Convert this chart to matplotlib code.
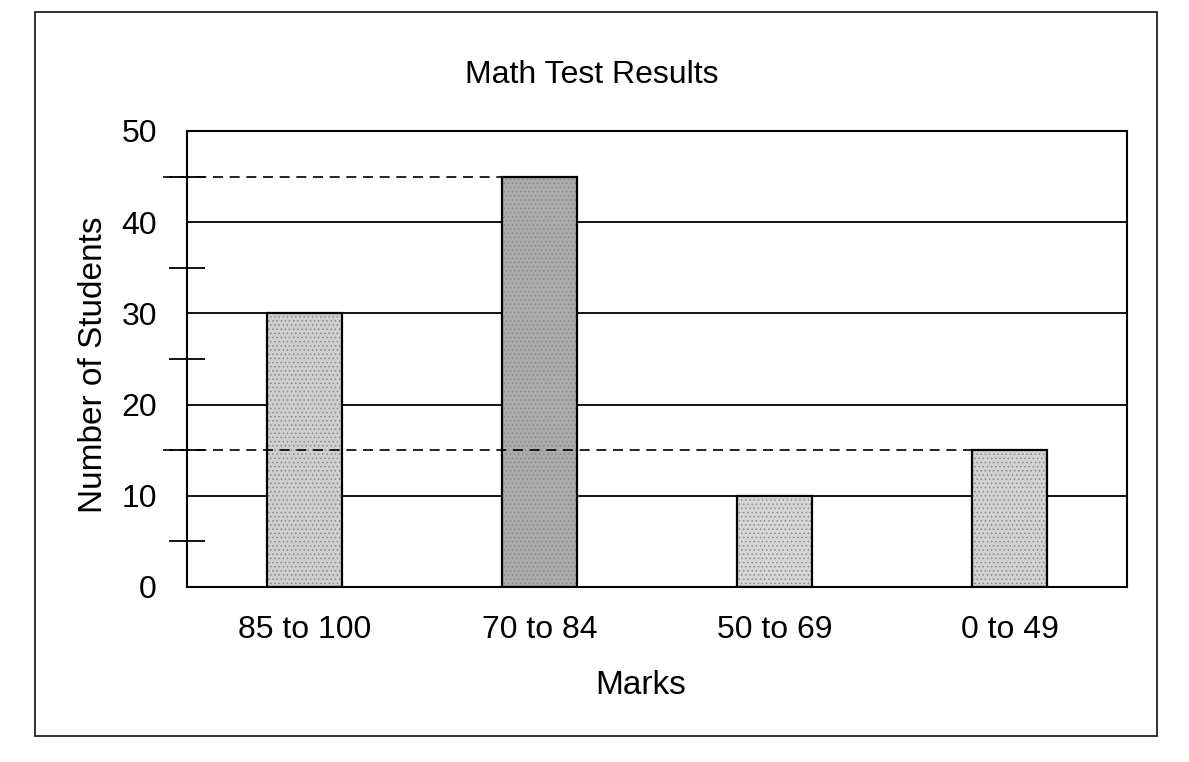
import matplotlib
matplotlib.use("Agg")
import matplotlib.pyplot as plt
from matplotlib.patches import Rectangle

plt.rcParams['font.family'] = ['Liberation Sans', 'DejaVu Sans']
plt.rcParams['hatch.linewidth'] = 0.6

categories = ["85 to 100", "70 to 84", "50 to 69", "0 to 49"]
students = [30, 45, 10, 15]
bar_colors = ["#cfcfcf", "#ababab", "#d6d6d6", "#d2d2d2"]
major_ticks = [0, 10, 20, 30, 40, 50]
minor_ticks = [5, 15, 25, 35, 45]
reference_levels = [45, 15]      # dashed guide lines
reference_bar = [1, 3]           # the bar each guide runs to

W, H = 1189, 762
PX = 72 / 100  # points per pixel
fig = plt.figure(figsize=(W / 100, H / 100), dpi=100)
fig.patch.set_facecolor("white")

# outer frame
fig.patches.append(Rectangle((35 / W, 1 - 736 / H), (1157 - 35) / W, (736 - 12) / H,
                             transform=fig.transFigure, fill=False,
                             edgecolor="#222222", linewidth=1.3))

ax_l, ax_r, ax_t, ax_b = 187, 1127, 131, 587
ax = fig.add_axes([ax_l / W, 1 - ax_b / H, (ax_r - ax_l) / W, (ax_b - ax_t) / H])
x = list(range(len(categories)))
bw = 0.315

ax.set_xlim(-0.5, len(categories) - 0.5)
ax.set_ylim(0, 50)

# gridlines
for v in major_ticks[1:-1]:
    ax.axhline(v, color="black", linewidth=1.3, zorder=1)

# bars: textured fill + black outline
ax.bar(x, students, width=bw, color=bar_colors, edgecolor="#8a8a8a",
       hatch="....", linewidth=0, zorder=2)
ax.bar(x, students, width=bw, fill=False, edgecolor="black", linewidth=1.6, zorder=3)

# dashed guide lines from outside the axis to the bar's left edge
px_per_unit = (ax_r - ax_l) / len(categories)
x_start = -0.5 - 24 / px_per_unit
for lvl, bi in zip(reference_levels, reference_bar):
    ax.plot([x_start, x[bi] - bw / 2], [lvl, lvl], color="black", linewidth=1.2,
            linestyle=(0, (6, 4)), clip_on=False, zorder=4)

for s in ax.spines.values():
    s.set_linewidth(1.5)
    s.set_color("black")

ax.set_yticks(major_ticks)
ax.set_yticks(minor_ticks, minor=True)
ax.tick_params(axis="y", which="major", length=0, pad=30 * PX, labelsize=23)
ax.tick_params(axis="y", which="minor", length=36 * PX, direction="inout", width=1.3)
ax.set_xticks(x)
ax.set_xticklabels(categories)
ax.tick_params(axis="x", which="major", length=0, pad=28 * PX, labelsize=23)

ax.set_ylabel("Number of Students", fontsize=24, va="center")
ax.yaxis.set_label_coords((94 - ax_l) / (ax_r - ax_l), (ax_b - 365) / (ax_b - ax_t))
ax.set_xlabel("Marks", fontsize=24, va="center")
ax.xaxis.set_label_coords((641 - ax_l) / (ax_r - ax_l), (ax_b - 686) / (ax_b - ax_t))
fig.text(592 / W, 1 - 75 / H, "Math Test Results", fontsize=23, ha="center", va="center")

fig.savefig("out.png", dpi=100)
